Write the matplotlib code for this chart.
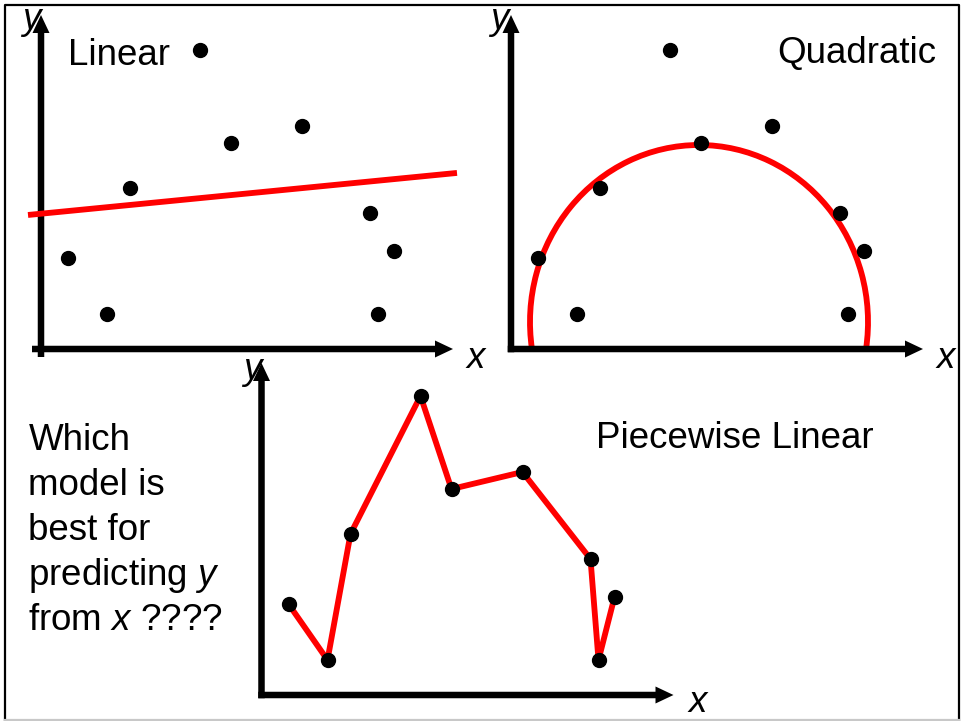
import matplotlib
matplotlib.use('Agg')
import matplotlib.pyplot as plt
from matplotlib.lines import Line2D
from matplotlib.patches import Arc

plt.rcParams['font.family'] = 'Liberation Sans'
plt.rcParams['mathtext.fontset'] = 'custom'
plt.rcParams['mathtext.rm'] = 'Liberation Sans'
plt.rcParams['mathtext.it'] = 'Liberation Sans:italic'

# same nine (x, y) samples in every panel, measured from the axis origin
x_pts = [27, 66, 89, 159, 190, 261, 329, 337, 353]
y_pts = [91, 35, 161, 299, 206, 223, 136, 35, 98]

# straight-line model
lin_intercept = 135.3
lin_slope = 0.098
lin_x = [-13, 416]

# curved model, drawn as an elliptical arc
arc_center = (188, 27)
arc_width = 338
arc_height = 354
arc_theta = (-9.2, 189.2)

question = ['Which', 'model is', 'best for', 'predicting $y$', 'from $x$ ????']

W, H = 961, 721
FS = 26.5
RED = '#ff0000'

fig = plt.figure(figsize=(W / 100, H / 100), dpi=100)


def make_panel(ox, oy):
    # one data unit is one pixel; (0, 0) sits at pixel (ox, oy) from the top-left
    x0, x1, y0, y1 = -40, 440, -30, 350
    ax = fig.add_axes([(ox + x0) / W, (H - oy + y0) / H, (x1 - x0) / W, (y1 - y0) / H])
    ax.set_xlim(x0, x1)
    ax.set_ylim(y0, y1)
    ax.axis('off')
    return ax


def draw_axes(ax, x_start, y_start, y_tip, x_tip=412):
    kw = dict(width=6.5, head_width=17, head_length=18, length_includes_head=True,
              fc='black', ec='none', clip_on=False, zorder=2)
    ax.arrow(x_start, 0, x_tip - x_start, 0, **kw)
    ax.arrow(0, y_start, 0, y_tip - y_start, **kw)


def axis_names(ax, xpos, ypos):
    ax.text(*xpos, 'x', fontsize=FS, style='italic', va='baseline', ha='left')
    ax.text(*ypos, 'y', fontsize=FS, style='italic', va='baseline', ha='left')


# Linear
ax1 = make_panel(41, 349)
draw_axes(ax1, -9, -8, 334)
ax1.plot(lin_x, [lin_intercept + lin_slope * x for x in lin_x],
         color=RED, lw=4.2, solid_capstyle='butt', zorder=3)
ax1.plot(x_pts, y_pts, 'o', color='black', ms=10, zorder=4)
ax1.text(27, 284, 'Linear', fontsize=FS, va='baseline')
axis_names(ax1, (425.7, -19), (-19, 320))

# Quadratic
ax2 = make_panel(511, 349)
draw_axes(ax2, -3.25, -3.25, 334)
ax2.add_patch(Arc(arc_center, arc_width, arc_height, theta1=arc_theta[0],
                  theta2=arc_theta[1], color=RED, lw=4.2, zorder=1))
ax2.plot(x_pts, y_pts, 'o', color='black', ms=10, zorder=4)
ax2.text(266, 286, 'Quadratic', fontsize=FS, va='baseline')
axis_names(ax2, (425.7, -19), (-21, 320))

# Piecewise linear
ax3 = make_panel(261.5, 695)
draw_axes(ax3, -3.25, -3.25, 332)
ax3.plot(x_pts, y_pts, color=RED, lw=4.2, zorder=3)
ax3.plot(x_pts, y_pts, 'o', color='black', ms=10, zorder=4)
ax3.text(335, 246.7, 'Piecewise Linear', fontsize=FS, va='baseline')
axis_names(ax3, (426.5, -16.5), (-18.5, 316))

for i, line in enumerate(question):
    ax3.text(-233, 245 - 45 * i, line, fontsize=FS, va='baseline', ha='left')

# slide frame
fig.add_artist(Line2D([4.5 / W, 4.5 / W, 958.5 / W, 958.5 / W],
                      [1.5 / H, (H - 4.5) / H, (H - 4.5) / H, 1.5 / H],
                      transform=fig.transFigure, color='black', lw=1.6))
fig.add_artist(Line2D([4.5 / W, 958.5 / W], [1.5 / H, 1.5 / H],
                      transform=fig.transFigure, color='#c8c8c8', lw=1.6))

fig.savefig('out.png', dpi=100)
